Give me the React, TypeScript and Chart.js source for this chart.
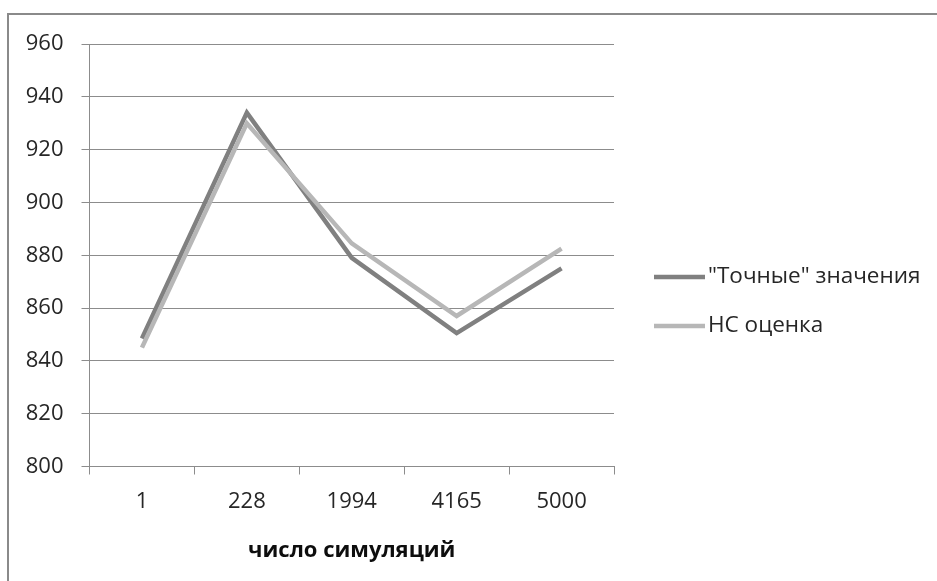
import React, { useEffect, useRef } from "react";
import { Chart, registerables } from "chart.js";

Chart.register(...registerables);

const categories = ["1", "228", "1994", "4165", "5000"];
const exactValues = [848.5, 934, 879, 850.5, 875];
const nnEstimate = [845, 930, 884.5, 857, 882.5];
const seriesNames = ['"Точные" значения', "НС оценка"];
const axisTitle = "число симуляций";

const FONT = "'Open Sans', 'Noto Sans', sans-serif";
const DARK = "#808080";
const LIGHT = "#b7b7b7";
const GRID = "#8c8c8c";
const TEXT = "#262626";

// Draws the legend on the right as a line swatch followed by the series name.
const sideLegend = {
  id: "sideLegend",
  afterDraw(chart: any) {
    const { ctx } = chart;
    const rows = [277, 326];
    ctx.save();
    ctx.font = `22.5px ${FONT}`;
    ctx.textBaseline = "middle";
    ctx.textAlign = "left";
    chart.data.datasets.forEach((ds: any, i: number) => {
      const y = rows[i];
      ctx.strokeStyle = ds.borderColor;
      ctx.lineWidth = ds.borderWidth;
      ctx.beginPath();
      ctx.moveTo(654, y);
      ctx.lineTo(705, y);
      ctx.stroke();
      ctx.fillStyle = TEXT;
      ctx.fillText(ds.label, 708, y);
    });
    ctx.restore();
  },
};

export default function App() {
  const ref = useRef<HTMLCanvasElement>(null);

  useEffect(() => {
    document.body.style.margin = "0";
    const chart = new Chart(ref.current!, {
      type: "line",
      data: {
        labels: categories,
        datasets: [
          {
            label: seriesNames[0],
            data: exactValues,
            borderColor: DARK,
            backgroundColor: DARK,
            borderWidth: 4.5,
            pointRadius: 0,
            borderJoinStyle: "miter",
            tension: 0,
            order: 1,
          },
          {
            label: seriesNames[1],
            data: nnEstimate,
            borderColor: LIGHT,
            backgroundColor: LIGHT,
            borderWidth: 4.5,
            pointRadius: 0,
            borderJoinStyle: "miter",
            tension: 0,
            order: 0,
          },
        ],
      },
      options: {
        animation: false,
        responsive: false,
        layout: { padding: { left: 0, top: 44, right: 323, bottom: 0 } },
        plugins: {
          legend: { display: false },
          tooltip: { enabled: false },
        },
        scales: {
          x: {
            offset: true,
            grid: {
              offset: true,
              drawOnChartArea: false,
              drawTicks: true,
              tickLength: 8,
              color: GRID,
            },
            border: { display: true, color: GRID, width: 1 },
            ticks: {
              color: TEXT,
              font: { family: FONT, size: 22 },
              padding: 14,
              maxRotation: 0,
            },
            title: {
              display: true,
              text: axisTitle,
              color: "#0d0d0d",
              font: { family: FONT, size: 22, weight: "bold" },
              padding: { top: 0, bottom: 17 },
            },
            afterFit: (s: any) => {
              s.height = 114.5;
            },
          },
          y: {
            min: 800,
            max: 960,
            ticks: {
              stepSize: 20,
              color: TEXT,
              font: { family: FONT, size: 22 },
              padding: 18,
            },
            grid: {
              color: GRID,
              drawTicks: true,
              tickLength: 8,
            },
            border: { display: true, color: GRID, width: 1 },
            afterFit: (s: any) => {
              s.width = 89.5;
            },
          },
        },
      },
      plugins: [sideLegend],
    });
    return () => chart.destroy();
  }, []);

  return (
    <div
      style={{
        position: "relative",
        width: 937,
        height: 581,
        overflow: "hidden",
        background: "#ffffff",
      }}
    >
      <div
        style={{
          position: "absolute",
          left: 7,
          top: 13,
          width: 960,
          height: 600,
          borderTop: "2px solid #8a8a8a",
          borderLeft: "2px solid #8a8a8a",
        }}
      />
      <canvas
        ref={ref}
        width={937}
        height={581}
        style={{ position: "absolute", left: 0, top: 0 }}
      />
    </div>
  );
}
